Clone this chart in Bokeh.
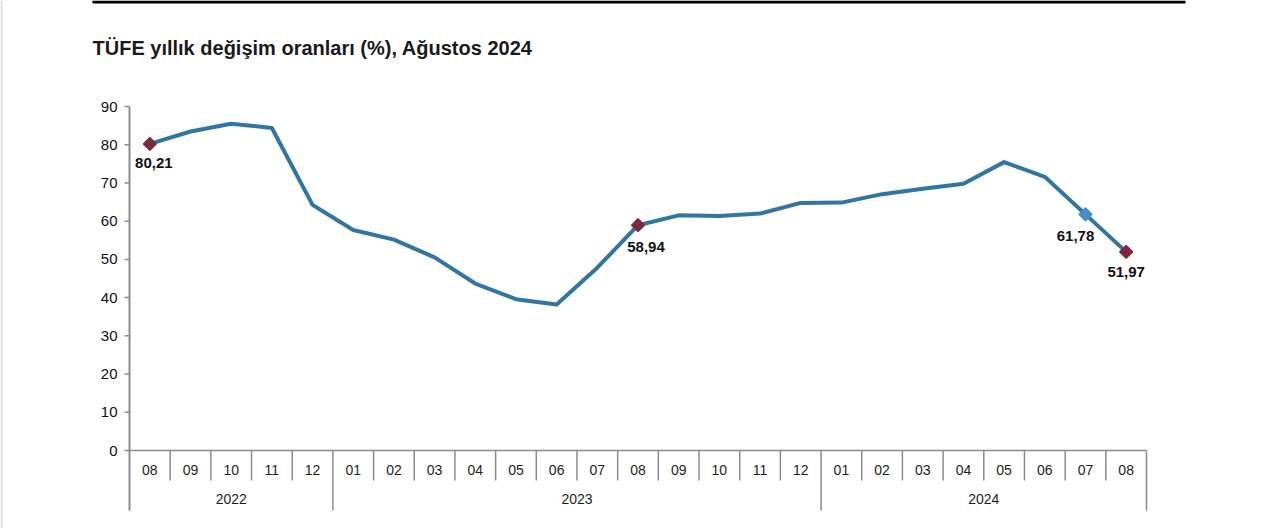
import math
from bokeh.plotting import figure
from bokeh.models import Range1d, ColumnDataSource
from bokeh.core.properties import value
from bokeh.embed import file_html
from bokeh.resources import INLINE

# ---------------- data ----------------
months = ["08", "09", "10", "11", "12",
          "01", "02", "03", "04", "05", "06", "07", "08", "09", "10", "11", "12",
          "01", "02", "03", "04", "05", "06", "07", "08"]
years = ["2022", "2023", "2024"]
year_counts = [5, 12, 8]
cpi = [80.21, 83.45, 85.51, 84.39, 64.27,
       57.68, 55.18, 50.51, 43.68, 39.59, 38.21, 47.83, 58.94, 61.53, 61.36, 61.98, 64.77,
       64.86, 67.07, 68.50, 69.80, 75.45, 71.60, 61.78, 51.97]
y_ticks = [0, 10, 20, 30, 40, 50, 60, 70, 80, 90]
maroon_points = [0, 12, 24]
blue_points = [23]
labelled_points = [0, 12, 23, 24]
title_text = "TÜFE yıllık değişim oranları (%), Ağustos 2024"

# ---------------- layout (pixels) ----------------
W, H = 1280, 528
FRAME_L, FRAME_R = 129, 1146
ZERO_PX, TOP_PX = 450, 106
MONTH_SEP_PX, TABLE_BOT_PX = 480, 510
n = len(months)
cw = (FRAME_R - FRAME_L) / n          # px per category
vu = (ZERO_PX - TOP_PX) / 90.0        # px per value unit

FONT = value("Liberation Sans")
LINE_BLUE = "#3176a3"
MAROON = "#7d2740"
MARKER_BLUE = "#4a8cc4"
GRID_GRAY = "#8c8c8c"

p = figure(width=W, height=H,
           x_range=Range1d(-FRAME_L / cw, (W - FRAME_L) / cw),
           y_range=Range1d(-(H - ZERO_PX) / vu, ZERO_PX / vu),
           x_axis_location=None, y_axis_location=None,
           toolbar_location=None, output_backend="svg",
           min_border=0, outline_line_color=None,
           background_fill_color="white", border_fill_color="white")
p.grid.visible = False
p.extra_x_ranges = {"px": Range1d(0, W)}
p.extra_y_ranges = {"px": Range1d(H, 0)}

# decorations in pixel space
p.quad(left=[0], right=[2], top=[0], bottom=[H], x_range_name="px", y_range_name="px",
       fill_color="#dedede", line_color=None)
p.quad(left=[92], right=[1185], top=[0], bottom=[3], x_range_name="px", y_range_name="px",
       fill_color="black", line_color=None)
p.text(x=[92], y=[47], text=[title_text], x_range_name="px", y_range_name="px",
       text_font=FONT, text_font_style="bold", text_font_size="20px",
       text_color="#1a1a1a", text_baseline="middle", text_align="left")

# axes & table in data space
bot = -(TABLE_BOT_PX - ZERO_PX) / vu
msep = -(MONTH_SEP_PX - ZERO_PX) / vu
tick_len = 5 / cw

p.segment(x0=[0], y0=[bot], x1=[0], y1=[90], line_color=GRID_GRAY, line_width=2)
p.segment(x0=[-tick_len] * len(y_ticks), y0=y_ticks, x1=[0] * len(y_ticks), y1=y_ticks,
          line_color=GRID_GRAY, line_width=1.5)
p.text(x=[-12 / cw] * len(y_ticks), y=y_ticks, text=[str(t) for t in y_ticks],
       text_font=FONT, text_font_size="15px", text_color="#111111",
       text_align="right", text_baseline="middle")
p.segment(x0=[0], y0=[0], x1=[n], y1=[0], line_color=GRID_GRAY, line_width=1.5)

year_bounds = [0]
for c in year_counts:
    year_bounds.append(year_bounds[-1] + c)
month_seps = [i for i in range(1, n) if i not in year_bounds]
p.segment(x0=month_seps, y0=[0] * len(month_seps), x1=month_seps, y1=[msep] * len(month_seps),
          line_color=GRID_GRAY, line_width=1.5)
ysep = year_bounds[1:]
p.segment(x0=ysep, y0=[0] * len(ysep), x1=ysep, y1=[bot] * len(ysep),
          line_color=GRID_GRAY, line_width=1.5)

xc = [i + 0.5 for i in range(n)]
p.text(x=xc, y=[-(469 - ZERO_PX) / vu] * n, text=months,
       text_font=FONT, text_font_size="14px", text_color="#1e1e1e",
       text_align="center", text_baseline="middle")
ymid = [(year_bounds[k] + year_bounds[k + 1]) / 2 for k in range(len(years))]
p.text(x=ymid, y=[-(498 - ZERO_PX) / vu] * len(years), text=years,
       text_font=FONT, text_font_size="14px", text_color="#1e1e1e",
       text_align="center", text_baseline="middle")

# series
p.line(xc, cpi, line_color=LINE_BLUE, line_width=4, line_join="round")
p.scatter([xc[i] for i in blue_points], [cpi[i] for i in blue_points], marker="square",
          angle=math.pi / 4, size=9, fill_color=MARKER_BLUE, line_color=MARKER_BLUE, line_width=1.5)
p.scatter([xc[i] for i in maroon_points], [cpi[i] for i in maroon_points], marker="square",
          angle=math.pi / 4, size=9, fill_color=MAROON, line_color=MAROON, line_width=1.5)

dx = [4, 8, -10, 0]
dy = [19, 22, 22, 20]
lab = ColumnDataSource(dict(
    x=[xc[i] for i in labelled_points],
    y=[cpi[i] for i in labelled_points],
    t=[f"{cpi[i]:.2f}".replace(".", ",") for i in labelled_points],
    dx=dx, dy=dy))
p.text(x="x", y="y", text="t", x_offset="dx", y_offset="dy", source=lab,
       text_font=FONT, text_font_style="bold", text_font_size="15px", text_color="#111111",
       text_align="center", text_baseline="middle")

open("out.html", "w").write(file_html(p, INLINE))
